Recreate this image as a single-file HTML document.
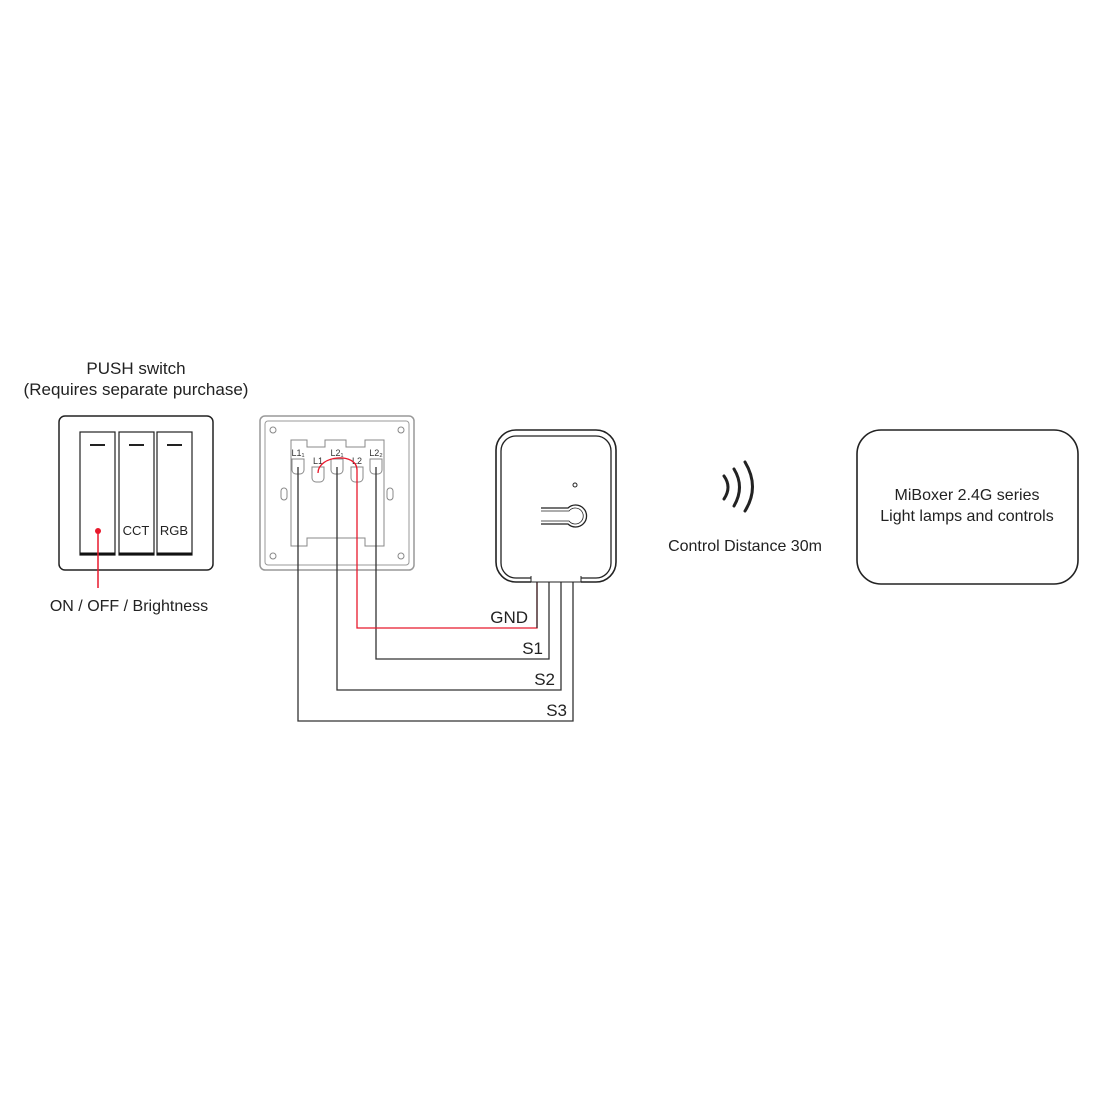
<!DOCTYPE html>
<html><head><meta charset="utf-8"><style>
html,body{margin:0;padding:0;background:#fff;}
svg{display:block;font-family:"Liberation Sans",sans-serif;}
</style></head><body>
<svg width="1100" height="1100" viewBox="0 0 1100 1100" xmlns="http://www.w3.org/2000/svg">
<rect width="1100" height="1100" fill="#fff"/>
<text x="136" y="374" font-size="17" text-anchor="middle" fill="#222">PUSH switch</text>
<text x="136" y="395" font-size="17" text-anchor="middle" fill="#222">(Requires separate purchase)</text>
<rect x="59" y="416" width="154" height="154" rx="6" fill="none" stroke="#222" stroke-width="1.5"/>
<g fill="none" stroke="#222" stroke-width="1.2">
<rect x="80" y="432" width="35" height="123"/>
<rect x="119" y="432" width="35" height="123"/>
<rect x="157" y="432" width="35" height="123"/>
</g>
<g stroke="#111" stroke-width="3">
<line x1="80" y1="554" x2="115" y2="554"/>
<line x1="119" y1="554" x2="154" y2="554"/>
<line x1="157" y1="554" x2="192" y2="554"/>
</g>
<g stroke="#222" stroke-width="2">
<line x1="90" y1="445" x2="105" y2="445"/>
<line x1="129" y1="445" x2="144" y2="445"/>
<line x1="167" y1="445" x2="182" y2="445"/>
</g>
<text x="136" y="535" font-size="13" text-anchor="middle" fill="#222">CCT</text>
<text x="174" y="535" font-size="13" text-anchor="middle" fill="#222">RGB</text>
<circle cx="98" cy="531" r="3" fill="#e8192c"/>
<line x1="98" y1="531" x2="98" y2="588" stroke="#e8192c" stroke-width="1.5"/>
<text x="129" y="611" font-size="16" text-anchor="middle" fill="#222">ON / OFF / Brightness</text>
<rect x="260" y="416" width="154" height="154" rx="5" fill="none" stroke="#999" stroke-width="1.5"/>
<rect x="265" y="421" width="144" height="144" rx="3" fill="none" stroke="#999" stroke-width="1"/>
<g fill="none" stroke="#888" stroke-width="1">
<circle cx="273" cy="430" r="3"/><circle cx="401" cy="430" r="3"/>
<circle cx="273" cy="556" r="3"/><circle cx="401" cy="556" r="3"/>
<path d="M291 440 H307 V447 H325 V440 H346 V447 H365 V440 H384 V546 H365 V538 H307 V546 H291 Z"/>
<rect x="281" y="488" width="6" height="12" rx="3"/>
<rect x="387" y="488" width="6" height="12" rx="3"/>
<path d="M292 459 h12 v11 a4 4 0 0 1 -4 4 h-4 a4 4 0 0 1 -4 -4 Z"/>
<path d="M312 467 h12 v11 a4 4 0 0 1 -4 4 h-4 a4 4 0 0 1 -4 -4 Z"/>
<path d="M331 459 h12 v11 a4 4 0 0 1 -4 4 h-4 a4 4 0 0 1 -4 -4 Z"/>
<path d="M351 467 h12 v11 a4 4 0 0 1 -4 4 h-4 a4 4 0 0 1 -4 -4 Z"/>
<path d="M370 459 h12 v11 a4 4 0 0 1 -4 4 h-4 a4 4 0 0 1 -4 -4 Z"/>
</g>
<g font-size="9" fill="#333" text-anchor="middle">
<text x="298" y="456">L1₁</text><text x="318" y="464">L1</text>
<text x="337" y="456">L2₁</text><text x="357" y="464">L2</text>
<text x="376" y="456">L2₂</text>
</g>
<path d="M318 473 C318 455 357 452 357 470" fill="none" stroke="#e8192c" stroke-width="1.3"/>
<g fill="none" stroke="#333" stroke-width="1.3">
<polyline points="376,467 376,659 549,659 549,582"/>
<polyline points="337,467 337,690 561,690 561,582"/>
<polyline points="298,467 298,721 573,721 573,582"/>
</g>
<polyline points="357,470 357,628 537,628 537,582" fill="none" stroke="#e8192c" stroke-width="1.3"/>
<line x1="537" y1="582" x2="537" y2="628" stroke="#333" stroke-width="1.3"/>
<g font-size="17" fill="#222" text-anchor="end">
<text x="528" y="623">GND</text><text x="543" y="654">S1</text>
<text x="555" y="685">S2</text><text x="567" y="716">S3</text>
</g>
<path d="M531 582 H516 a20 20 0 0 1 -20 -20 V450 a20 20 0 0 1 20 -20 H596 a20 20 0 0 1 20 20 V562 a20 20 0 0 1 -20 20 H581" fill="none" stroke="#222" stroke-width="1.6"/>
<path d="M531 578 H516 a15 15 0 0 1 -15 -15 V451 a15 15 0 0 1 15 -15 H596 a15 15 0 0 1 15 15 V563 a15 15 0 0 1 -15 15 H581" fill="none" stroke="#222" stroke-width="1.3"/>
<path d="M531 576 V582 H581 V576" fill="none" stroke="#222" stroke-width="1"/>
<circle cx="575" cy="485" r="2" fill="none" stroke="#222" stroke-width="1"/>
<path d="M541 508 H568 A11 11 0 1 1 568 524 H541" fill="none" stroke="#222" stroke-width="1.3"/>
<path d="M541 511 H569 A8 8 0 1 1 569 521 H541" fill="none" stroke="#222" stroke-width="0.8"/>
<g fill="none" stroke="#222" stroke-width="3" stroke-linecap="round">
<path d="M724 476 Q732 487 724 499"/>
<path d="M734 469 Q745 487 734 506"/>
<path d="M745 462 Q760 487 745 511"/>
</g>
<text x="745" y="551" font-size="16" text-anchor="middle" fill="#222">Control Distance 30m</text>
<rect x="857" y="430" width="221" height="154" rx="24" fill="none" stroke="#222" stroke-width="1.6"/>
<text x="967" y="500" font-size="16" text-anchor="middle" fill="#222">MiBoxer 2.4G series</text>
<text x="967" y="521" font-size="16" text-anchor="middle" fill="#222">Light lamps and controls</text>
</svg>
</body></html>
